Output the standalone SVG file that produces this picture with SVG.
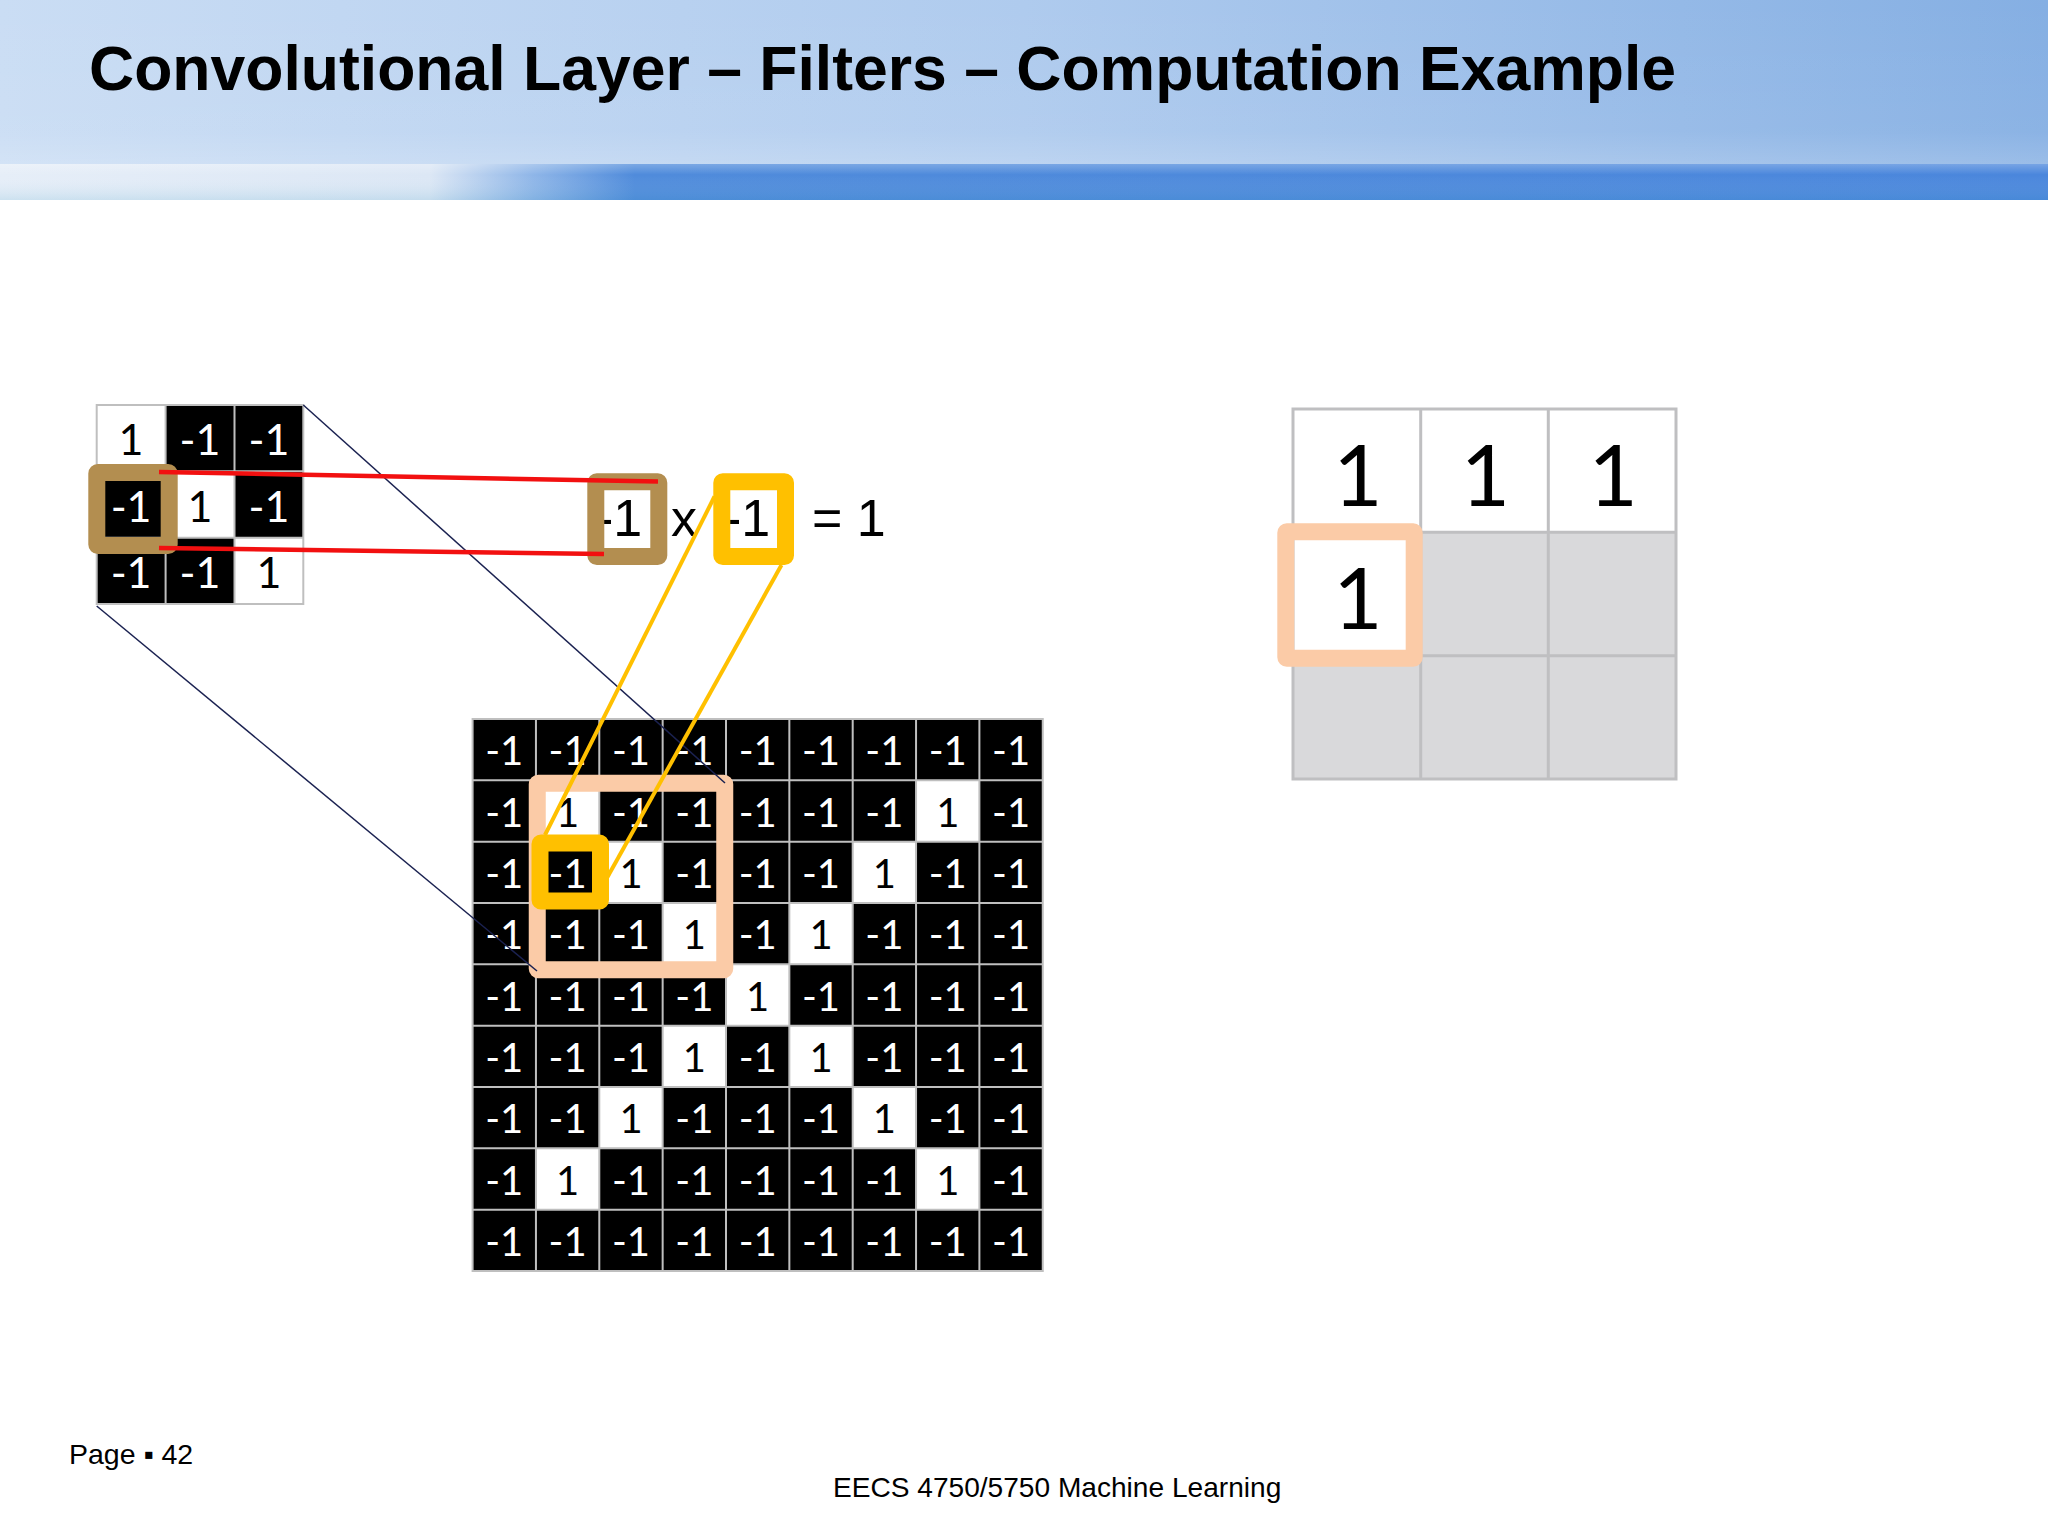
<svg xmlns="http://www.w3.org/2000/svg" width="2048" height="1536" viewBox="0 0 2048 1536">
<style>
.title{font-family:"Liberation Sans",Arial,sans-serif;font-weight:bold;font-size:62.5px;fill:#000}
.foot{font-family:"Liberation Sans",Arial,sans-serif;fill:#000}
.d{font-family:Lato,"Liberation Sans",sans-serif;text-anchor:middle}
.fg{font-size:43px}
.bg{font-size:40px}
.w{fill:#fff}
.b{fill:#000}
.eq{font-family:"Liberation Sans",Arial,sans-serif;font-size:52px;fill:#000}
.gl{fill:none;stroke:#BFBFBF;stroke-width:2}
.conn-red{stroke:#F21010;stroke-width:4.5;fill:none}
.conn-navy{stroke:#1B2251;stroke-width:1.5;fill:none}
.conn-yel{stroke:#FFC000;stroke-width:4;fill:none}
.hl{fill:none;stroke-width:17;stroke-linejoin:round}
</style>
<defs>
<linearGradient id="hdr" x1="0" y1="0" x2="1" y2="0">
<stop offset="0" stop-color="#CADDF4"/>
<stop offset="0.5" stop-color="#AFCBEE"/>
<stop offset="1" stop-color="#85AFE3"/>
</linearGradient>
<linearGradient id="hdrv" x1="0" y1="0" x2="0" y2="1">
<stop offset="0" stop-color="#fff" stop-opacity="0"/>
<stop offset="0.8" stop-color="#fff" stop-opacity="0.05"/>
<stop offset="1" stop-color="#fff" stop-opacity="0.18"/>
</linearGradient>
<linearGradient id="stripe" x1="0" y1="0" x2="1" y2="0">
<stop offset="0" stop-color="#E6EEF8"/>
<stop offset="0.21" stop-color="#DCE7F5"/>
<stop offset="0.26" stop-color="#8FB6E8"/>
<stop offset="0.31" stop-color="#4F8BDB"/>
<stop offset="1" stop-color="#4A86DC"/>
</linearGradient>
<linearGradient id="stripev" x1="0" y1="0" x2="0" y2="1">
<stop offset="0" stop-color="#fff" stop-opacity="0.25"/>
<stop offset="0.3" stop-color="#fff" stop-opacity="0"/>
<stop offset="1" stop-color="#3A9AC0" stop-opacity="0.15"/>
</linearGradient>
</defs>
<rect x="0" y="0" width="2048" height="1536" fill="#fff"/>
<g id="header">
<rect x="0" y="0" width="2048" height="165" fill="url(#hdr)"/>
<rect x="0" y="0" width="2048" height="165" fill="url(#hdrv)"/>
<rect x="0" y="164" width="2048" height="36" fill="url(#stripe)"/>
<rect x="0" y="164" width="2048" height="36" fill="url(#stripev)"/>
<text class="title" x="89" y="90">Convolutional Layer – Filters – Computation Example</text>
</g>
<g id="filter">
<rect x="96.7" y="405" width="206.6" height="199" fill="#000"/>
<rect x="96.7" y="405" width="68.9" height="66.3" fill="#fff"/>
<rect x="165.6" y="471.3" width="68.9" height="66.4" fill="#fff"/>
<rect x="234.5" y="537.7" width="68.8" height="66.3" fill="#fff"/>
<path class="gl" d="M96.7 405H303.3V604H96.7Z M165.6 405V604 M234.5 405V604 M96.7 471.3H303.3 M96.7 537.7H303.3"/>
<text class="d fg b" x="131.1" y="455">1</text>
<text class="d fg w" x="200" y="455">-1</text>
<text class="d fg w" x="268.9" y="455">-1</text>
<text class="d fg w" x="131.1" y="521.5">-1</text>
<text class="d fg b" x="200" y="521.5">1</text>
<text class="d fg w" x="268.9" y="521.5">-1</text>
<text class="d fg w" x="131.1" y="588">-1</text>
<text class="d fg w" x="200" y="588">-1</text>
<text class="d fg b" x="268.9" y="588">1</text>
<rect class="hl" x="96.8" y="472.5" width="72.4" height="73" rx="1" stroke="#B38E50"/>
</g>
<g id="equation">
<rect x="595.8" y="481.8" width="63" height="74.7" fill="#fff"/>
<text class="eq" x="596" y="536">-1</text>
<rect class="hl" x="595.8" y="481.8" width="63" height="74.7" rx="1" stroke="#B38E50"/>
<text class="eq" x="684" y="536" text-anchor="middle">x</text>
<rect x="721.8" y="481.8" width="63.7" height="74.7" fill="#fff"/>
<text class="eq" x="724" y="536">-1</text>
<rect class="hl" x="721.8" y="481.8" width="63.7" height="74.7" rx="1" stroke="#FFC000"/>
<text class="eq" x="812" y="536">= 1</text>
</g>
<g id="image-grid">
<rect x="472.6" y="719" width="570.15" height="552" fill="#000"/>
<g fill="#fff">
<rect x="535.95" y="780.33" width="63.35" height="61.34"/>
<rect x="916.05" y="780.33" width="63.35" height="61.34"/>
<rect x="599.3" y="841.67" width="63.35" height="61.33"/>
<rect x="852.7" y="841.67" width="63.35" height="61.33"/>
<rect x="662.65" y="903" width="63.35" height="61.33"/>
<rect x="789.35" y="903" width="63.35" height="61.33"/>
<rect x="726" y="964.33" width="63.35" height="61.34"/>
<rect x="662.65" y="1025.67" width="63.35" height="61.33"/>
<rect x="789.35" y="1025.67" width="63.35" height="61.33"/>
<rect x="599.3" y="1087" width="63.35" height="61.33"/>
<rect x="852.7" y="1087" width="63.35" height="61.33"/>
<rect x="535.95" y="1148.33" width="63.35" height="61.34"/>
<rect x="916.05" y="1148.33" width="63.35" height="61.34"/>
</g>
<path class="gl" d="M472.6 719H1042.75V1271H472.6Z M535.95 719V1271 M599.3 719V1271 M662.65 719V1271 M726 719V1271 M789.35 719V1271 M852.7 719V1271 M916.05 719V1271 M979.4 719V1271 M472.6 780.33H1042.75 M472.6 841.67H1042.75 M472.6 903H1042.75 M472.6 964.33H1042.75 M472.6 1025.67H1042.75 M472.6 1087H1042.75 M472.6 1148.33H1042.75 M472.6 1209.67H1042.75"/>
<g class="d bg">
<text class="w" x="504.28" y="765.2">-1</text><text class="w" x="567.63" y="765.2">-1</text><text class="w" x="630.98" y="765.2">-1</text><text class="w" x="694.33" y="765.2">-1</text><text class="w" x="757.68" y="765.2">-1</text><text class="w" x="821.03" y="765.2">-1</text><text class="w" x="884.38" y="765.2">-1</text><text class="w" x="947.73" y="765.2">-1</text><text class="w" x="1011.08" y="765.2">-1</text>
<text class="w" x="504.28" y="826.5">-1</text><text class="b" x="567.63" y="826.5">1</text><text class="w" x="630.98" y="826.5">-1</text><text class="w" x="694.33" y="826.5">-1</text><text class="w" x="757.68" y="826.5">-1</text><text class="w" x="821.03" y="826.5">-1</text><text class="w" x="884.38" y="826.5">-1</text><text class="b" x="947.73" y="826.5">1</text><text class="w" x="1011.08" y="826.5">-1</text>
<text class="w" x="504.28" y="887.8">-1</text><text class="w" x="567.63" y="887.8">-1</text><text class="b" x="630.98" y="887.8">1</text><text class="w" x="694.33" y="887.8">-1</text><text class="w" x="757.68" y="887.8">-1</text><text class="w" x="821.03" y="887.8">-1</text><text class="b" x="884.38" y="887.8">1</text><text class="w" x="947.73" y="887.8">-1</text><text class="w" x="1011.08" y="887.8">-1</text>
<text class="w" x="504.28" y="949.2">-1</text><text class="w" x="567.63" y="949.2">-1</text><text class="w" x="630.98" y="949.2">-1</text><text class="b" x="694.33" y="949.2">1</text><text class="w" x="757.68" y="949.2">-1</text><text class="b" x="821.03" y="949.2">1</text><text class="w" x="884.38" y="949.2">-1</text><text class="w" x="947.73" y="949.2">-1</text><text class="w" x="1011.08" y="949.2">-1</text>
<text class="w" x="504.28" y="1010.5">-1</text><text class="w" x="567.63" y="1010.5">-1</text><text class="w" x="630.98" y="1010.5">-1</text><text class="w" x="694.33" y="1010.5">-1</text><text class="b" x="757.68" y="1010.5">1</text><text class="w" x="821.03" y="1010.5">-1</text><text class="w" x="884.38" y="1010.5">-1</text><text class="w" x="947.73" y="1010.5">-1</text><text class="w" x="1011.08" y="1010.5">-1</text>
<text class="w" x="504.28" y="1071.8">-1</text><text class="w" x="567.63" y="1071.8">-1</text><text class="w" x="630.98" y="1071.8">-1</text><text class="b" x="694.33" y="1071.8">1</text><text class="w" x="757.68" y="1071.8">-1</text><text class="b" x="821.03" y="1071.8">1</text><text class="w" x="884.38" y="1071.8">-1</text><text class="w" x="947.73" y="1071.8">-1</text><text class="w" x="1011.08" y="1071.8">-1</text>
<text class="w" x="504.28" y="1133.2">-1</text><text class="w" x="567.63" y="1133.2">-1</text><text class="b" x="630.98" y="1133.2">1</text><text class="w" x="694.33" y="1133.2">-1</text><text class="w" x="757.68" y="1133.2">-1</text><text class="w" x="821.03" y="1133.2">-1</text><text class="b" x="884.38" y="1133.2">1</text><text class="w" x="947.73" y="1133.2">-1</text><text class="w" x="1011.08" y="1133.2">-1</text>
<text class="w" x="504.28" y="1194.5">-1</text><text class="b" x="567.63" y="1194.5">1</text><text class="w" x="630.98" y="1194.5">-1</text><text class="w" x="694.33" y="1194.5">-1</text><text class="w" x="757.68" y="1194.5">-1</text><text class="w" x="821.03" y="1194.5">-1</text><text class="w" x="884.38" y="1194.5">-1</text><text class="b" x="947.73" y="1194.5">1</text><text class="w" x="1011.08" y="1194.5">-1</text>
<text class="w" x="504.28" y="1255.8">-1</text><text class="w" x="567.63" y="1255.8">-1</text><text class="w" x="630.98" y="1255.8">-1</text><text class="w" x="694.33" y="1255.8">-1</text><text class="w" x="757.68" y="1255.8">-1</text><text class="w" x="821.03" y="1255.8">-1</text><text class="w" x="884.38" y="1255.8">-1</text><text class="w" x="947.73" y="1255.8">-1</text><text class="w" x="1011.08" y="1255.8">-1</text>
</g>
<rect class="hl" x="537.25" y="783.25" width="187.5" height="186.5" rx="1" stroke="#FBCBA7" stroke-width="16.5"/>
<rect class="hl" x="540" y="843" width="60.5" height="58" rx="1" stroke="#FFC000" stroke-width="16"/>
</g>
<g id="output">
<rect x="1293" y="409" width="383" height="370" fill="#D9D9DB"/>
<rect x="1293" y="409" width="383" height="123.3" fill="#fff"/>
<rect x="1293" y="532.3" width="127.7" height="123.4" fill="#fff"/>
<path fill="none" stroke="#BFBFC1" stroke-width="3" d="M1293 409H1676V779H1293Z M1420.7 409V779 M1548.3 409V779 M1293 532.3H1676 M1293 655.7H1676"/>
<text class="d b" font-size="85" x="1358" y="506">1</text>
<text class="d b" font-size="85" x="1485.5" y="506">1</text>
<text class="d b" font-size="85" x="1613.2" y="506">1</text>
<text class="d b" font-size="85" x="1358" y="628.7">1</text>
<rect class="hl" x="1285.8" y="531.8" width="128.4" height="126.4" rx="1" stroke="#FBCBA7"/>
</g>
<g id="connectors">
<line class="conn-navy" x1="303.3" y1="405" x2="725" y2="783"/>
<line class="conn-navy" x1="96.7" y1="606" x2="537" y2="971"/>
<line class="conn-red" x1="159" y1="472" x2="658" y2="481.5"/>
<line class="conn-red" x1="159" y1="548" x2="604" y2="554"/>
<line class="conn-yel" x1="714.5" y1="496.5" x2="545" y2="835"/>
<line class="conn-yel" x1="781.5" y1="565" x2="607.5" y2="877"/>
</g>
<g id="footer">
<text class="foot" x="69" y="1464" font-size="28.5">Page ▪ 42</text>
<text class="foot" x="833" y="1497" font-size="28.1">EECS 4750/5750 Machine Learning</text>
</g>
</svg>
